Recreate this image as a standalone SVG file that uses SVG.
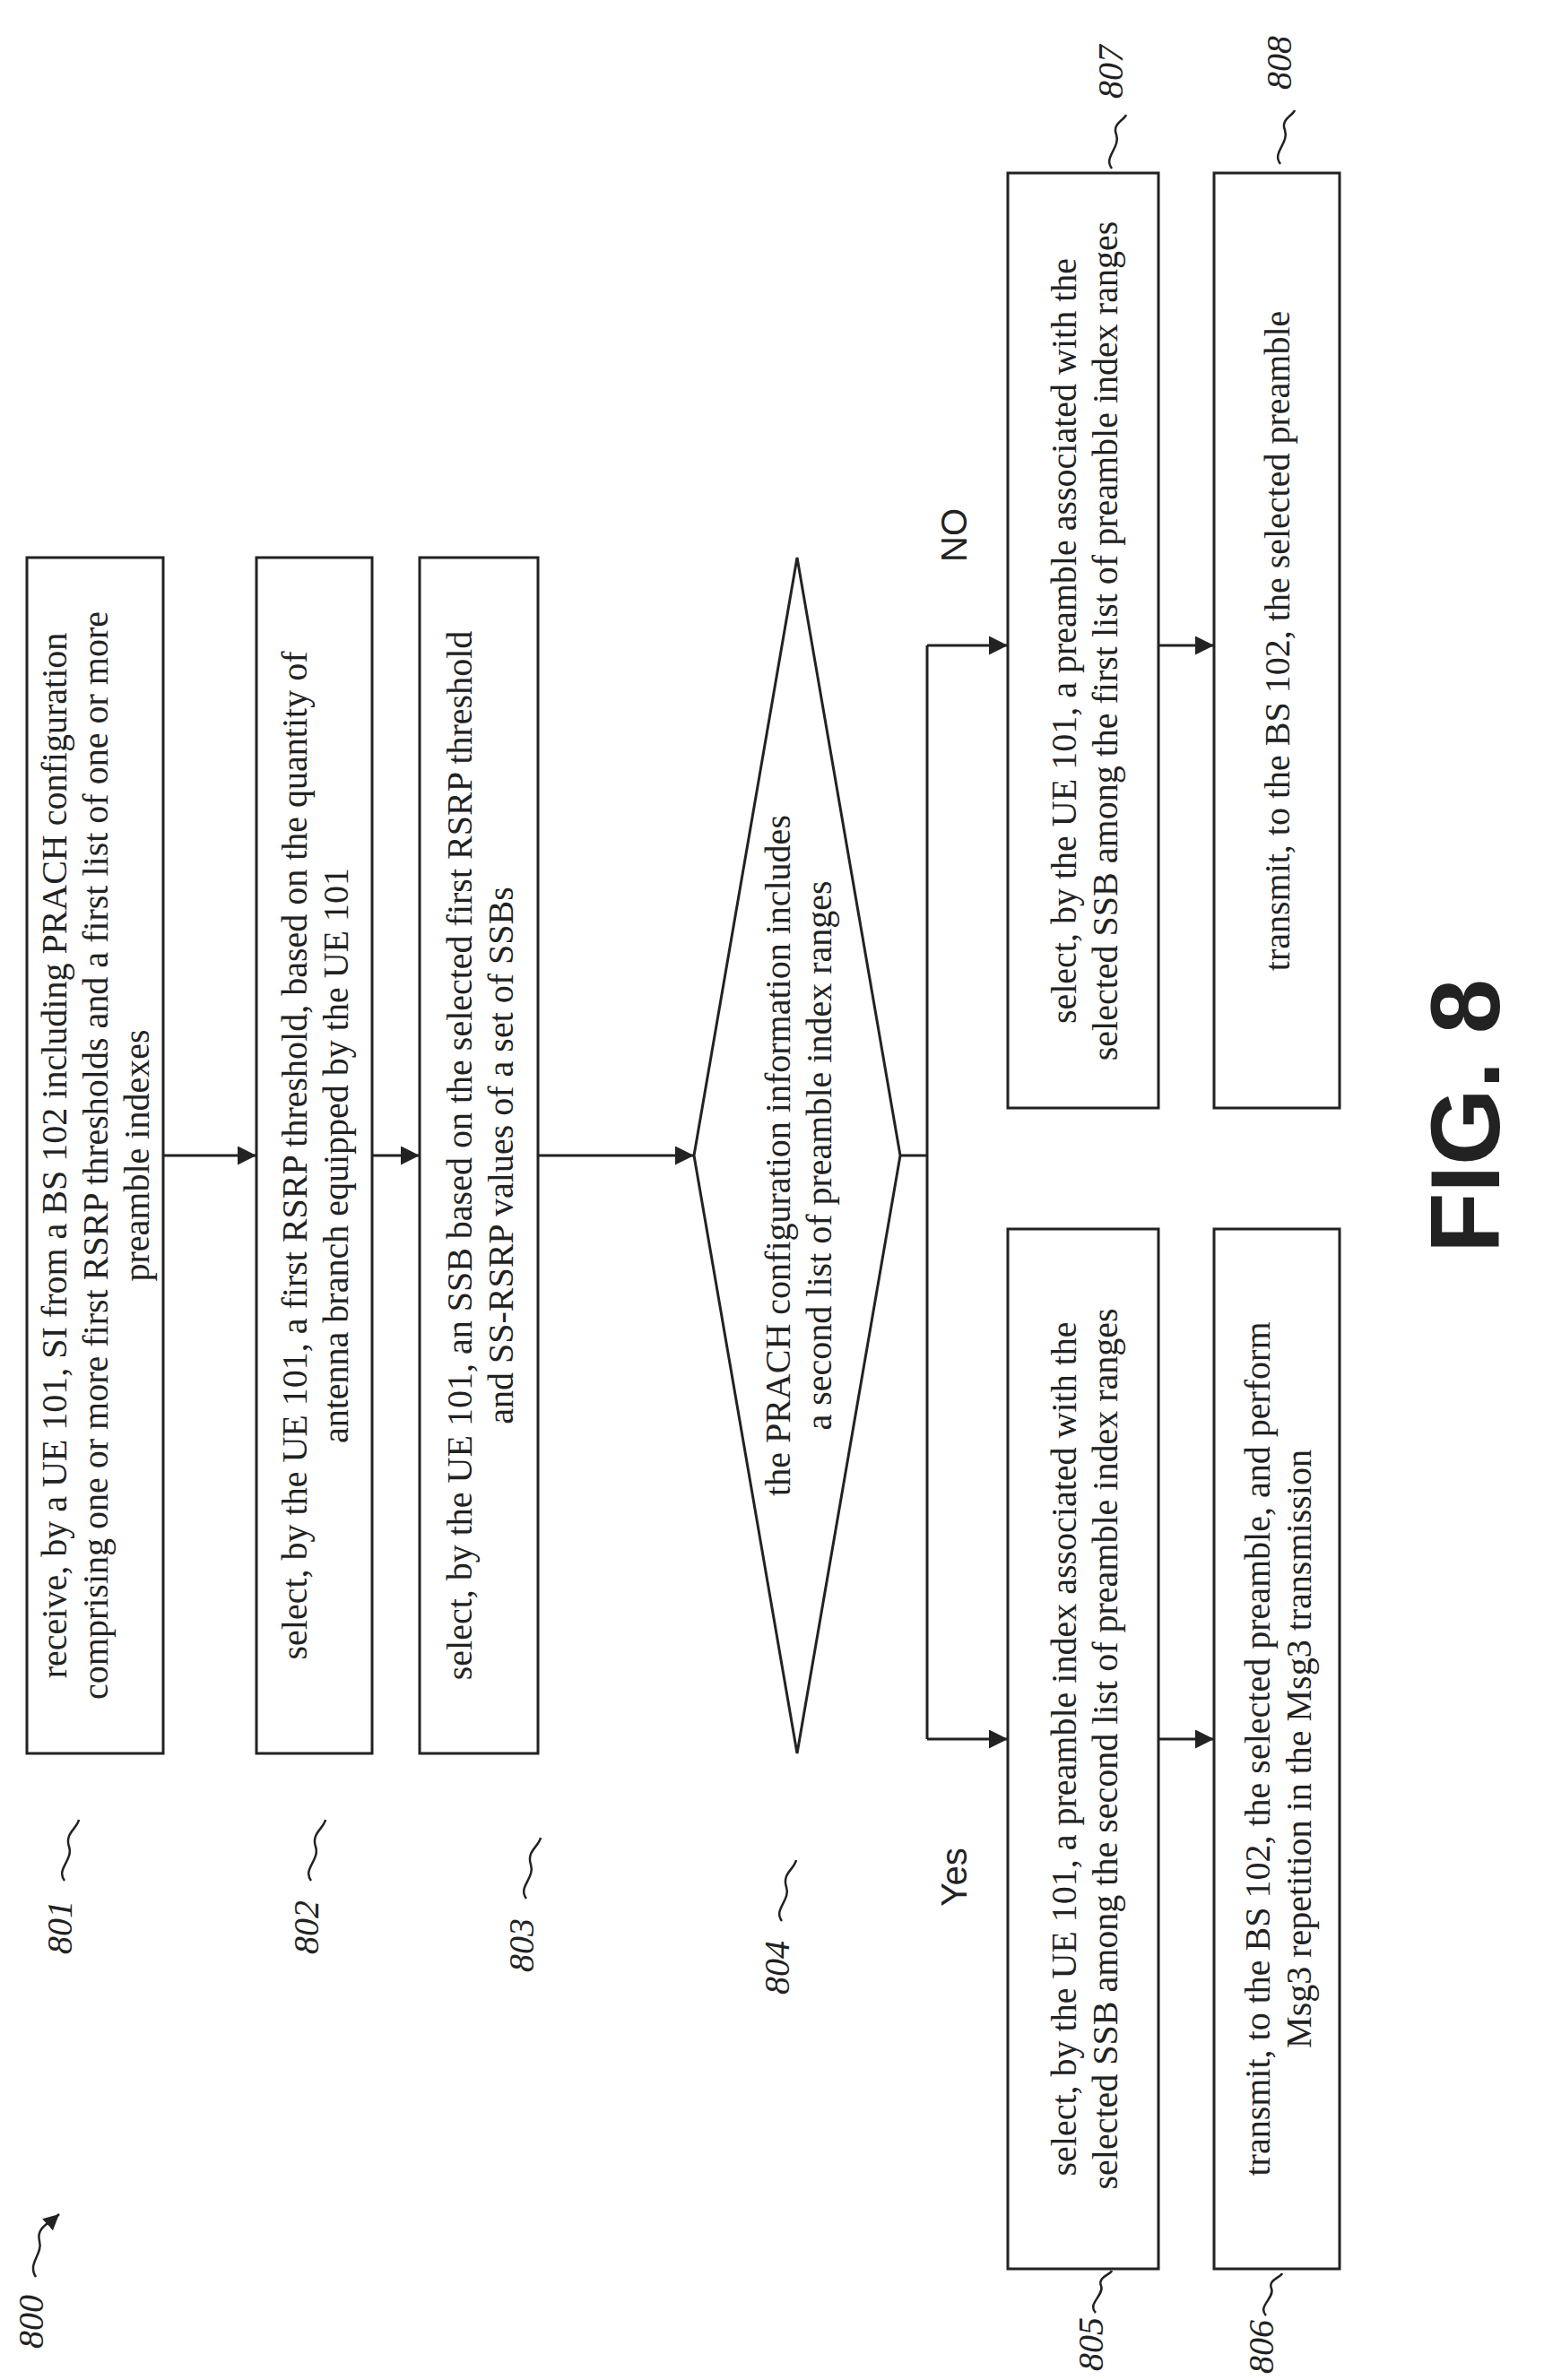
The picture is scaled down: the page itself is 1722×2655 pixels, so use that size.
<svg xmlns="http://www.w3.org/2000/svg" width="1722" height="2655" viewBox="0 0 1722 2655">
<style>
.b{fill:#fff;stroke:#222;stroke-width:3}
.t{font-family:"Liberation Serif",serif;font-size:40px;fill:#222;text-anchor:middle}
.l{font-family:"Liberation Serif",serif;font-style:italic;font-size:40px;fill:#222;text-anchor:middle}
.c{fill:none;stroke:#222;stroke-width:3}
.s{fill:none;stroke:#222;stroke-width:2.5}
</style>
<defs><marker id="a" viewBox="0 0 10 10" refX="10" refY="5" markerWidth="7" markerHeight="7" orient="auto"><path d="M0,0 L10,5 L0,10 z" fill="#222"/></marker></defs>
<rect width="1722" height="2655" fill="#fff"/>
<g id="n801"><rect class="b" x="30" y="622" width="152" height="1334"/>
<text class="t" transform="translate(106,1289) rotate(-90)"><tspan x="0" y="-32">receive, by a UE 101, SI from a BS 102 including PRACH configuration</tspan><tspan x="0" y="14">comprising one or more first RSRP thresholds and a first list of one or more</tspan><tspan x="0" y="60">preamble indexes</tspan></text></g>
<g id="n802"><rect class="b" x="286" y="622" width="129" height="1334"/>
<text class="t" transform="translate(350,1289) rotate(-90)"><tspan x="0" y="-8">select, by the UE 101, a first RSRP threshold, based on the quantity of</tspan><tspan x="0" y="38">antenna branch equipped by the UE 101</tspan></text></g>
<g id="n803"><rect class="b" x="468" y="622" width="132" height="1334"/>
<text class="t" transform="translate(534,1289) rotate(-90)"><tspan x="0" y="-8">select, by the UE 101, an SSB based on the selected first RSRP threshold</tspan><tspan x="0" y="38">and SS-RSRP values of a set of SSBs</tspan></text></g>
<g id="n804"><path class="b" d="M774,1289 L889,622 L1004,1289 L889,1956 Z"/>
<text class="t" transform="translate(889,1289) rotate(-90)"><tspan x="0" y="-8">the PRACH configuration information includes</tspan><tspan x="0" y="38">a second list of preamble index ranges</tspan></text></g>
<g id="n807"><rect class="b" x="1124" y="193" width="168" height="1043"/>
<text class="t" transform="translate(1208,715) rotate(-90)"><tspan x="0" y="-8">select, by the UE 101, a preamble associated with the</tspan><tspan x="0" y="38">selected SSB among the first list of preamble index ranges</tspan></text></g>
<g id="n808"><rect class="b" x="1354" y="193" width="140" height="1043"/>
<text class="t" transform="translate(1424,715) rotate(-90)"><tspan x="0" y="14">transmit, to the BS 102, the selected preamble</tspan></text></g>
<g id="n805"><rect class="b" x="1124" y="1371" width="168" height="1160"/>
<text class="t" transform="translate(1208,1951) rotate(-90)"><tspan x="0" y="-8">select, by the UE 101, a preamble index associated with the</tspan><tspan x="0" y="38">selected SSB among the second list of preamble index ranges</tspan></text></g>
<g id="n806"><rect class="b" x="1354" y="1371" width="140" height="1160"/>
<text class="t" transform="translate(1424,1951) rotate(-90)"><tspan x="0" y="-8">transmit, to the BS 102, the selected preamble, and perform</tspan><tspan x="0" y="38">Msg3 repetition in the Msg3 transmission</tspan></text></g>
<g id="connectors">
<line class="c" x1="182" y1="1289" x2="286" y2="1289" marker-end="url(#a)"/>
<line class="c" x1="415" y1="1289" x2="468" y2="1289" marker-end="url(#a)"/>
<line class="c" x1="600" y1="1289" x2="774" y2="1289" marker-end="url(#a)"/>
<polyline class="c" points="1004,1289 1034,1289"/>
<polyline class="c" points="1034,720 1034,1940"/>
<line class="c" x1="1034" y1="720" x2="1124" y2="720" marker-end="url(#a)"/>
<line class="c" x1="1034" y1="1940" x2="1124" y2="1940" marker-end="url(#a)"/>
<line class="c" x1="1292" y1="720" x2="1354" y2="720" marker-end="url(#a)"/>
<line class="c" x1="1292" y1="1940" x2="1354" y2="1940" marker-end="url(#a)"/>
</g>
<g id="labels">
<text class="t" transform="translate(1078,2094) rotate(-90)" style="font-family:'Liberation Sans',sans-serif">Yes</text>
<text class="t" transform="translate(1078,597) rotate(-90)" style="font-family:'Liberation Sans',sans-serif">NO</text>
<text class="l" transform="translate(48,2590) rotate(-90)">800</text>
<path class="s" d="M40,2540 C30,2525 48,2515 44,2500 C40,2485 55,2480 66,2470" marker-end="url(#a)"/>
<text class="l" transform="translate(80,2150) rotate(-90)">801</text>
<path class="s" d="M72,2098 C62,2085 82,2075 77,2060 C72,2045 86,2040 88,2030"/>
<text class="l" transform="translate(355,2150) rotate(-90)">802</text>
<path class="s" d="M347,2098 C337,2085 357,2075 352,2060 C347,2045 361,2040 363,2030"/>
<text class="l" transform="translate(595,2170) rotate(-90)">803</text>
<path class="s" d="M587,2118 C577,2105 597,2095 592,2080 C587,2065 601,2060 603,2050"/>
<text class="l" transform="translate(880,2195) rotate(-90)">804</text>
<path class="s" d="M872,2143 C862,2130 882,2120 877,2105 C872,2090 886,2085 888,2075"/>
<text class="l" transform="translate(1230,2615) rotate(-90)">805</text>
<path class="s" d="M1222,2580 C1212,2570 1232,2560 1228,2550 C1224,2540 1238,2538 1240,2533"/>
<text class="l" transform="translate(1420,2618) rotate(-90)">806</text>
<path class="s" d="M1412,2583 C1402,2573 1422,2563 1418,2553 C1414,2543 1428,2541 1430,2536"/>
<text class="l" transform="translate(1252,80) rotate(-90)">807</text>
<path class="s" d="M1240,188 C1230,175 1250,165 1245,150 C1240,138 1254,134 1256,128"/>
<text class="l" transform="translate(1440,70) rotate(-90)">808</text>
<path class="s" d="M1428,183 C1418,170 1438,160 1433,145 C1428,133 1442,129 1444,123"/>
<text transform="translate(1672,1245) rotate(-90)" style="font-family:'Liberation Sans',sans-serif;font-weight:bold;font-size:110px;text-anchor:middle;fill:#222">FIG. 8</text>
</g>
</svg>
